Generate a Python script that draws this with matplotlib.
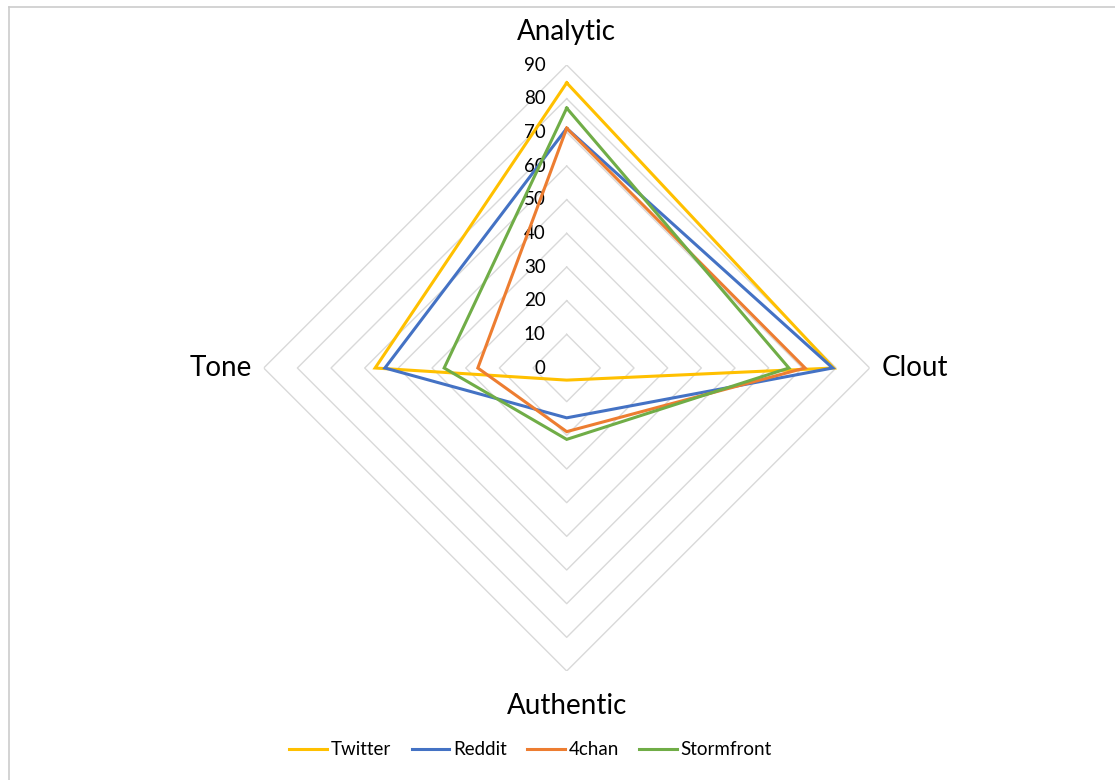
"""Radar chart of LIWC summary dimensions by platform."""

import numpy as np
import matplotlib
matplotlib.use("Agg")
import matplotlib.pyplot as plt
from matplotlib.lines import Line2D

plt.rcParams["font.family"] = ["Lato", "DejaVu Sans"]

# Axes in clockwise order starting from the top
CATEGORIES = ["Analytic", "Clout", "Authentic", "Tone"]

# Series values, same order as CATEGORIES
TWITTER = [84.7, 79.3, 3.6, 56.9]
REDDIT = [71.2, 79.0, 14.8, 54.0]
FOURCHAN = [71.2, 70.8, 18.9, 26.4]
STORMFRONT = [77.2, 66.0, 21.2, 36.4]

SERIES_NAMES = ["Twitter", "Reddit", "4chan", "Stormfront"]
SERIES_COLORS = ["#FFC000", "#4472C4", "#ED7D31", "#70AD47"]

RADIAL_TICKS = [0, 10, 20, 30, 40, 50, 60, 70, 80, 90]

GRID_COLOR = "#D9D9D9"


def main():
    fig = plt.figure(figsize=(11.15, 7.8), dpi=100)
    ax = fig.add_axes([0.2365, 0.1397, 0.5435, 0.777], projection="polar")

    angles = np.linspace(0, 2 * np.pi, len(CATEGORIES), endpoint=False).tolist()
    closed = angles + angles[:1]

    ax.set_theta_zero_location("N")
    ax.set_theta_direction(-1)
    ax.set_ylim(0, 90)
    ax.grid(False)
    ax.spines["polar"].set_visible(False)
    ax.set_xticks([])
    ax.set_yticks([])
    ax.patch.set_alpha(0)

    # polygon gridlines
    for r in RADIAL_TICKS[1:]:
        ax.plot(closed, [r] * len(closed), color=GRID_COLOR, lw=1.0, zorder=1)

    # radial tick labels, left of the top spoke
    for r in RADIAL_TICKS:
        ax.annotate(str(r), xy=(0, r), xytext=(-21, 0), textcoords="offset pixels",
                    ha="right", va="center", fontsize=13.5, color="#000000",
                    annotation_clip=False)

    # series
    all_values = [TWITTER, REDDIT, FOURCHAN, STORMFRONT]
    for name, values, color in zip(SERIES_NAMES, all_values, SERIES_COLORS):
        ax.plot(closed, values + values[:1], color=color, lw=2.2,
                label=name, zorder=3, solid_joinstyle="miter")

    # category labels
    ax.text(angles[0], 99.8, CATEGORIES[0], ha="center", va="center", fontsize=20)
    ax.text(angles[1], 93.5, CATEGORIES[1], ha="left", va="center", fontsize=20)
    ax.text(angles[2], 100.3, CATEGORIES[2], ha="center", va="center", fontsize=20)
    ax.text(angles[3], 93.5, CATEGORIES[3], ha="right", va="center", fontsize=20)

    fig.legend(loc="center", bbox_to_anchor=(0.476, 0.0385), ncol=4,
               frameon=False, fontsize=13.5, handlelength=2.0,
               handletextpad=0.2, columnspacing=1.1)

    # chart area border (left and top only visible in crop)
    bx = 8.5 / 1115
    by = 1 - 6.5 / 780
    fig.add_artist(Line2D([bx, bx], [0, by], transform=fig.transFigure,
                          color="#CCCCCC", lw=1.2))
    fig.add_artist(Line2D([bx, 1], [by, by], transform=fig.transFigure,
                          color="#CCCCCC", lw=1.2))

    fig.savefig("out.png", dpi=100)


if __name__ == "__main__":
    main()
